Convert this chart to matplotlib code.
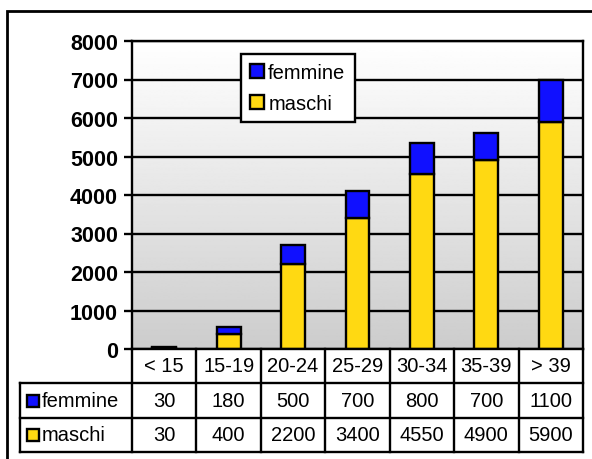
import matplotlib.pyplot as plt
import numpy as np
from matplotlib.patches import Rectangle

plt.rcParams['font.family'] = ['Liberation Sans', 'DejaVu Sans']

# Data
categories = ['< 15', '15-19', '20-24', '25-29', '30-34', '35-39', '> 39']
femmine = [30, 180, 500, 700, 800, 700, 1100]
maschi = [30, 400, 2200, 3400, 4550, 4900, 5900]
series_names = ['femmine', 'maschi']

blue = '#1010ff'
yellow = '#ffd912'

W, H = 592, 460


def fx(px):
    return px / W


def fy(py):
    return 1 - py / H


fig = plt.figure(figsize=(W / 100, H / 100), dpi=100)

# plot area
left, right, top, bottom = 132, 583, 42, 350
ax = fig.add_axes([fx(left), fy(bottom), (right - left) / W, (bottom - top) / H])
x = np.arange(len(categories))
ax.set_xlim(-0.5, len(categories) - 0.5)
ax.set_ylim(0, 8000)

# gradient background
grad = np.linspace(1.0, 0.80, 256).reshape(-1, 1)
ax.imshow(grad, cmap='gray', vmin=0, vmax=1, aspect='auto',
          extent=(-0.5, len(categories) - 0.5, 0, 8000), origin='upper', zorder=0)

lw = 1.7
ax.set_axisbelow(True)
ax.yaxis.grid(True, color='black', linewidth=lw, zorder=0.5)
ax.bar(x, maschi, width=0.37, color=yellow, edgecolor='black', linewidth=lw,
       label=series_names[1], zorder=2)
ax.bar(x, femmine, width=0.37, bottom=maschi, color=blue, edgecolor='black',
       linewidth=lw, label=series_names[0], zorder=2)

ax.set_yticks(range(0, 8001, 1000))
ax.set_yticklabels([str(v) for v in range(0, 8001, 1000)], fontsize=15.5, fontweight='bold')
ax.set_xticks([])
ax.tick_params(axis='y', length=6, width=lw, pad=4)
for s in ax.spines.values():
    s.set_linewidth(lw)
    s.set_color('black')

handles, labels = ax.get_legend_handles_labels()
leg = ax.legend(handles[::-1], labels[::-1], loc='upper left',
                bbox_to_anchor=(fx(241), fy(55)), bbox_transform=fig.transFigure,
                fancybox=False, framealpha=1, edgecolor='black', fontsize=14.5,
                handlelength=0.7, handleheight=0.7, handletextpad=0.2,
                labelspacing=0.6, borderpad=0.45, borderaxespad=0)
leg.get_frame().set_linewidth(lw)
leg.set_zorder(5)

# overlay for data table and outer border
ov = fig.add_axes([0, 0, 1, 1])
ov.set_xlim(0, W)
ov.set_ylim(H, 0)
ov.axis('off')
ov.patch.set_visible(False)

cw = (right - left) / len(categories)
row_y = [350, 384, 419, 453]
lab_left = 20
for yy in row_y[1:]:
    ov.plot([lab_left, right], [yy, yy], color='black', lw=lw)
for i in range(len(categories) + 1):
    ov.plot([left + i * cw, left + i * cw], [row_y[0], row_y[-1]], color='black', lw=lw)
ov.plot([lab_left, lab_left], [row_y[1], row_y[-1]], color='black', lw=lw)

fs = 14.5
for i, c in enumerate(categories):
    cx = left + (i + 0.5) * cw
    ov.text(cx, (row_y[0] + row_y[1]) / 2, c, ha='center', va='center', fontsize=fs)
    ov.text(cx, (row_y[1] + row_y[2]) / 2, str(femmine[i]), ha='center', va='center', fontsize=fs)
    ov.text(cx, (row_y[2] + row_y[3]) / 2, str(maschi[i]), ha='center', va='center', fontsize=fs)

for k, (name, col) in enumerate(zip(series_names, [blue, yellow])):
    cy = (row_y[k + 1] + row_y[k + 2]) / 2
    ov.add_patch(Rectangle((27, cy - 6), 12, 12, facecolor=col, edgecolor='black', lw=lw))
    ov.text(42, cy, name, ha='left', va='center', fontsize=fs)

# outer border
fig.patches.append(Rectangle((fx(7), -0.1), 1.2, fy(12) + 0.1, transform=fig.transFigure,
                             fill=False, edgecolor='black', linewidth=2, clip_on=False))

fig.savefig('out.png', dpi=100)
